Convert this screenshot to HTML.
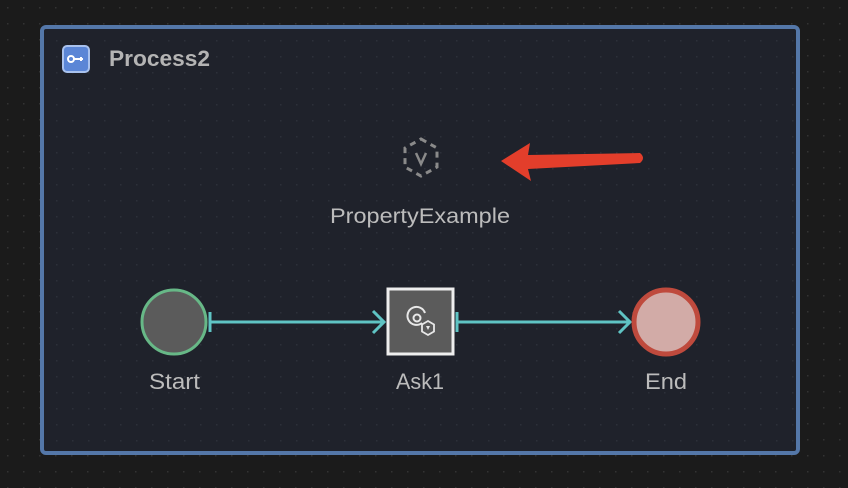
<!DOCTYPE html>
<html><head><meta charset="utf-8"><style>
html,body{margin:0;padding:0;background:#1b1b1b;}
svg{display:block;font-family:"Liberation Sans",sans-serif;}
</style></head><body>
<svg width="848" height="488" viewBox="0 0 848 488" xmlns="http://www.w3.org/2000/svg">
<defs>
<pattern id="d1" width="16" height="16" patternUnits="userSpaceOnUse"><rect x="7" y="7" width="1.5" height="1.5" fill="#333"/></pattern>
<pattern id="d2" width="16" height="16" patternUnits="userSpaceOnUse" x="2" y="2"><rect x="6" y="6" width="1.5" height="1.5" fill="#2c303a"/></pattern>
</defs>
<rect width="848" height="488" fill="#1b1b1b"/>
<rect width="848" height="488" fill="url(#d1)"/>
<rect x="42" y="27" width="756" height="426" rx="4" fill="#1f222b" stroke="#5477a8" stroke-width="4"/>
<rect x="44" y="29" width="752" height="422" fill="url(#d2)"/>
<!-- header icon -->
<rect x="63" y="46" width="26" height="26" rx="4" fill="#5b86d6" stroke="#a9c2ee" stroke-width="2"/>
<circle cx="71" cy="59" r="3" fill="none" stroke="#fff" stroke-width="2"/>
<path d="M74 59h9M81 57v4" stroke="#fff" stroke-width="2" fill="none"/>
<text x="109" y="66" font-size="22" font-weight="bold" fill="#b4b4b4" textLength="101" lengthAdjust="spacingAndGlyphs">Process2</text>
<!-- property hexagon -->
<polygon points="421,139 437,148 437,167 421,176 405,167 405,148" fill="none" stroke="#8a8a8a" stroke-width="3" stroke-dasharray="6,5"/>
<path d="M416 153l5 11l5-11" fill="none" stroke="#8a8a8a" stroke-width="2.5"/>
<text x="330" y="223" font-size="21" fill="#bcbcbc" textLength="180" lengthAdjust="spacingAndGlyphs">PropertyExample</text>
<!-- red arrow -->
<path d="M501 161L530 143L528 155L640 153Q646 158 640 163L528 169L531 181Z" fill="#e33e2b"/>
<!-- connectors -->
<line x1="210" y1="322" x2="384" y2="322" stroke="#5fc4c4" stroke-width="3"/>
<line x1="210" y1="312" x2="210" y2="332" stroke="#5fc4c4" stroke-width="3"/>
<path d="M373 311l11 11l-11 11" fill="none" stroke="#5fc4c4" stroke-width="3"/>
<line x1="456" y1="322" x2="630" y2="322" stroke="#5fc4c4" stroke-width="3"/>
<line x1="457" y1="312" x2="457" y2="332" stroke="#5fc4c4" stroke-width="3"/>
<path d="M619 311l11 11l-11 11" fill="none" stroke="#5fc4c4" stroke-width="3"/>
<!-- start -->
<circle cx="174" cy="322" r="32" fill="#5b5b5b" stroke="#67b887" stroke-width="3"/>
<text x="149" y="389" font-size="22" fill="#bcbcbc" textLength="51" lengthAdjust="spacingAndGlyphs">Start</text>
<!-- ask -->
<rect x="388" y="289" width="65" height="65" fill="#5b5b5b" stroke="#eeeeee" stroke-width="3"/>
<path d="M425 313a9 9 0 1 0 -3 10" fill="none" stroke="#e8e8e8" stroke-width="2"/>
<circle cx="417" cy="318" r="3.5" fill="none" stroke="#e8e8e8" stroke-width="2"/>
<polygon points="428,321 434,324.5 434,331.5 428,335 422,331.5 422,324.5" fill="#5b5b5b" stroke="#e8e8e8" stroke-width="1.8"/>
<path d="M426 326h4l-2 4z" fill="#e8e8e8"/>
<text x="396" y="389" font-size="22" fill="#bcbcbc" textLength="48" lengthAdjust="spacingAndGlyphs">Ask1</text>
<!-- end -->
<circle cx="666" cy="322" r="32" fill="#d2aba7" stroke="#bf4a3d" stroke-width="5"/>
<text x="645" y="389" font-size="22" fill="#bcbcbc" textLength="42" lengthAdjust="spacingAndGlyphs">End</text>
</svg>
</body></html>
